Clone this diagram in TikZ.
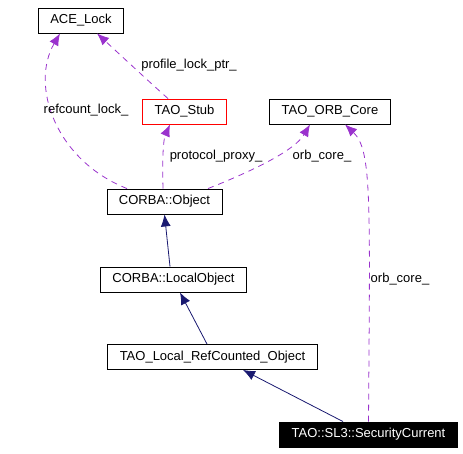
\documentclass[tikz,border=0pt]{standalone}
\usepackage{fontspec}
\setmainfont{Liberation Sans}
\usetikzlibrary{arrows.meta}
\definecolor{usecol}{HTML}{9A32CD}
\definecolor{inhcol}{HTML}{191970}

\begin{document}
\begin{tikzpicture}[x=1pt, y=-1pt, font=\fontsize{13}{15}\selectfont,
    cls/.style={draw, line width=0.9pt, inner xsep=12pt, inner ysep=0pt, minimum height=25pt},
    lbl/.style={inner sep=1pt},
    uses/.style={draw=usecol, line width=0.8pt, dash pattern=on 6pt off 5pt, -{Latex[length=12pt,width=10pt]}, usecol},
    inherits/.style={draw=inhcol, line width=0.8pt, -{Latex[length=12pt,width=10pt]}, inhcol}]
  \useasboundingbox (0,0) rectangle (463,453);
  \node[cls] (ace_lock) at (81, 20.5) {ACE\_Lock};
  \node[cls, draw=red] (tao_stub) at (184.5, 111.5) {TAO\_Stub};
  \node[cls] (orb_core) at (330, 111.5) {TAO\_ORB\_Core};
  \node[cls] (corba_obj) at (164.5, 201.5) {CORBA::Object};
  \node[cls] (local_obj) at (173.5, 279.5) {CORBA::LocalObject};
  \node[cls] (refcounted) at (212.5, 357) {TAO\_Local\_RefCounted\_Object};
  \node[cls, fill=black, text=white] (sec_current) at (368.5, 434.5) {TAO::SL3::SecurityCurrent};
  % inheritance
  \draw[inherits] ([xshift=-3.5pt]local_obj.north) -- (corba_obj.south);
  \draw[inherits] ([xshift=-5.5pt]refcounted.north) -- ([xshift=6.5pt]local_obj.south);
  \draw[inherits] ([xshift=-25.5pt]sec_current.north) -- ([xshift=30.5pt]refcounted.south);
  % members
  \draw[uses] ([xshift=-37.5pt]corba_obj.north) .. controls (55,160) and (30,85) .. ([xshift=-21pt]ace_lock.south);
  \node[lbl] (lbl_refcount) at (86,110) {refcount\_lock\_};
  \draw[uses] ([xshift=-16.5pt]tao_stub.north) .. controls (145,78) and (115,50) .. ([xshift=16pt]ace_lock.south);
  \node[lbl] (lbl_profile) at (189,65) {profile\_lock\_ptr\_};
  \draw[uses] ([xshift=-1.5pt]corba_obj.north) .. controls (162,150) and (164,138) .. ([xshift=-14.5pt]tao_stub.south);
  \node[lbl] (lbl_proxy) at (216,156) {protocol\_proxy\_};
  \draw[uses] ([xshift=43.5pt]corba_obj.north) .. controls (255,170) and (295,150) .. ([xshift=-20pt]orb_core.south);
  \node[lbl] (lbl_orb1) at (322,156) {orb\_core\_};
  \draw[uses] (sec_current.north) .. controls (370,200) and (372,150) .. ([xshift=15pt]orb_core.south);
  \node[lbl] (lbl_orb2) at (400,279) {orb\_core\_};
\end{tikzpicture}
\end{document}
